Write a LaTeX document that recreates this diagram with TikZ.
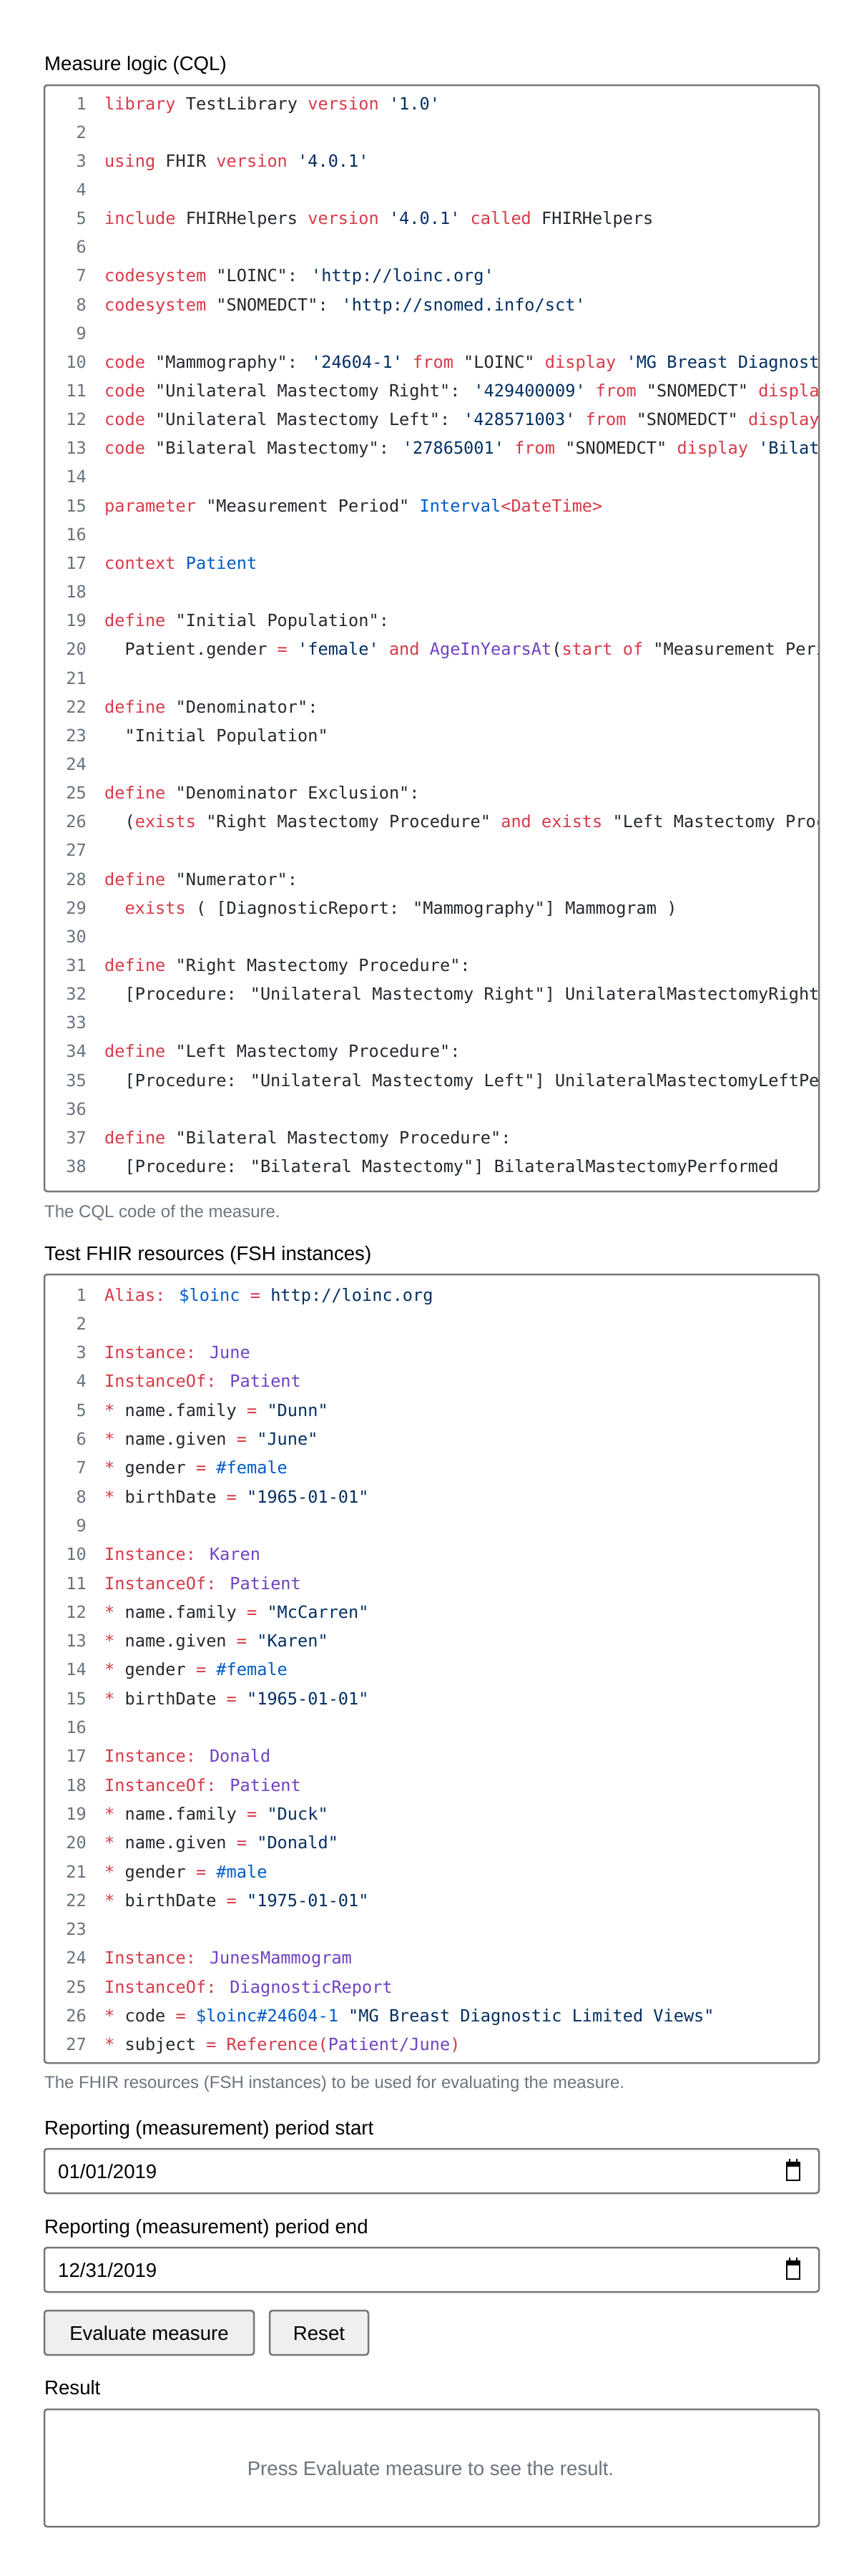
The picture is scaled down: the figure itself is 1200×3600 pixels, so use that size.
\documentclass[tikz,border=0pt]{standalone}
\usepackage{fontspec}
\setmainfont{Liberation Sans}
\newfontfamily\codefont{DejaVu Sans Mono}
\definecolor{kwc}{HTML}{D73A49}
\definecolor{stc}{HTML}{032F62}
\definecolor{blc}{HTML}{005CC5}
\definecolor{puc}{HTML}{6F42C1}
\definecolor{txc}{HTML}{24292E}
\definecolor{lnc}{HTML}{6A737D}
\definecolor{capc}{HTML}{6C757D}
\definecolor{bordc}{HTML}{767676}
\definecolor{btnc}{HTML}{EFEFEF}
\newcommand\kw[1]{\textcolor{kwc}{#1}}
\newcommand\st[1]{\textcolor{stc}{#1}}
\newcommand\bl[1]{\textcolor{blc}{#1}}
\newcommand\pu[1]{\textcolor{puc}{#1}}
\newcommand\ind{\hspace*{1.204em}}
\tikzset{
  lnum/.style={anchor=base east,inner sep=0pt,font=\codefont\fontsize{23.6}{28}\selectfont,text=lnc},
  ctext/.style={anchor=base west,inner sep=0pt,font=\codefont\fontsize{23.6}{28}\selectfont,text=txc},
  lbl/.style={anchor=base west,inner sep=0pt,font=\fontsize{27.6}{32}\selectfont,text=black},
  capt/.style={anchor=base west,inner sep=0pt,font=\fontsize{24}{28}\selectfont,text=capc},
  frame/.style={draw=bordc,line width=2.5pt,rounded corners=4pt},
  btn/.style={draw=bordc,line width=2.5pt,rounded corners=4pt,fill=btnc}
}
\newcommand\cql[2]{\node[lnum,name=an#1] at (121,{153+(#1-1)*40.15}) {#1};\node[ctext,name=ac#1] at (146,{153+(#1-1)*40.15}) {#2};}
\newcommand\fsh[2]{\node[lnum,name=bn#1] at (121,{1818+(#1-1)*40.3}) {#1};\node[ctext,name=bc#1] at (146,{1818+(#1-1)*40.3}) {#2};}
\begin{document}
\begin{tikzpicture}[x=1pt,y=-1pt]
\useasboundingbox[fill=white] (0,0) rectangle (1200,3600);
% CQL
\node[lbl,name=t1] at (62,98) {Measure logic (CQL)};
\draw[frame] (62,119) rectangle (1145,1665);
\begin{scope}
\clip (64,121) rectangle (1143,1663);
\cql{1}{\kw{library} TestLibrary \kw{version} \st{'1.0'}}
\cql{2}{}
\cql{3}{\kw{using} FHIR \kw{version} \st{'4.0.1'}}
\cql{4}{}
\cql{5}{\kw{include} FHIRHelpers \kw{version} \st{'4.0.1'} \kw{called} FHIRHelpers}
\cql{6}{}
\cql{7}{\kw{codesystem} "LOINC": \st{'http://loinc.org'}}
\cql{8}{\kw{codesystem} "SNOMEDCT": \st{'http://snomed.info/sct'}}
\cql{9}{}
\cql{10}{\kw{code} "Mammography": \st{'24604-1'} \kw{from} "LOINC" \kw{display} \st{'MG Breast Diagnostic Limited Views'}}
\cql{11}{\kw{code} "Unilateral Mastectomy Right": \st{'429400009'} \kw{from} "SNOMEDCT" \kw{display} \st{'Unilateral mastectomy right'}}
\cql{12}{\kw{code} "Unilateral Mastectomy Left": \st{'428571003'} \kw{from} "SNOMEDCT" \kw{display} \st{'Unilateral mastectomy left'}}
\cql{13}{\kw{code} "Bilateral Mastectomy": \st{'27865001'} \kw{from} "SNOMEDCT" \kw{display} \st{'Bilateral mastectomy'}}
\cql{14}{}
\cql{15}{\kw{parameter} "Measurement Period" \bl{Interval}\kw{<DateTime>}}
\cql{16}{}
\cql{17}{\kw{context} \bl{Patient}}
\cql{18}{}
\cql{19}{\kw{define} "Initial Population":}
\cql{20}{\ind Patient.gender \kw{=} \st{'female'} \kw{and} \pu{AgeInYearsAt}(\kw{start} \kw{of} "Measurement Period") \kw{>=} 40}
\cql{21}{}
\cql{22}{\kw{define} "Denominator":}
\cql{23}{\ind "Initial Population"}
\cql{24}{}
\cql{25}{\kw{define} "Denominator Exclusion":}
\cql{26}{\ind (\kw{exists} "Right Mastectomy Procedure" \kw{and} \kw{exists} "Left Mastectomy Procedure")}
\cql{27}{}
\cql{28}{\kw{define} "Numerator":}
\cql{29}{\ind \kw{exists} ( [DiagnosticReport: "Mammography"] Mammogram )}
\cql{30}{}
\cql{31}{\kw{define} "Right Mastectomy Procedure":}
\cql{32}{\ind [Procedure: "Unilateral Mastectomy Right"] UnilateralMastectomyRightPerformed}
\cql{33}{}
\cql{34}{\kw{define} "Left Mastectomy Procedure":}
\cql{35}{\ind [Procedure: "Unilateral Mastectomy Left"] UnilateralMastectomyLeftPerformed}
\cql{36}{}
\cql{37}{\kw{define} "Bilateral Mastectomy Procedure":}
\cql{38}{\ind [Procedure: "Bilateral Mastectomy"] BilateralMastectomyPerformed}
\end{scope}
\node[capt,name=cap1] at (62,1701) {The CQL code of the measure.};
% FSH
\node[lbl,name=t2] at (62,1761) {Test FHIR resources (FSH instances)};
\draw[frame] (62,1781) rectangle (1145,2883);
\fsh{1}{\kw{Alias:} \bl{\$loinc} \kw{=} \st{http://loinc.org}}
\fsh{2}{}
\fsh{3}{\kw{Instance:} \pu{June}}
\fsh{4}{\kw{InstanceOf:} \pu{Patient}}
\fsh{5}{\kw{*} name.family \kw{=} \st{"Dunn"}}
\fsh{6}{\kw{*} name.given \kw{=} \st{"June"}}
\fsh{7}{\kw{*} gender \kw{=} \bl{\#female}}
\fsh{8}{\kw{*} birthDate \kw{=} \st{"1965-01-01"}}
\fsh{9}{}
\fsh{10}{\kw{Instance:} \pu{Karen}}
\fsh{11}{\kw{InstanceOf:} \pu{Patient}}
\fsh{12}{\kw{*} name.family \kw{=} \st{"McCarren"}}
\fsh{13}{\kw{*} name.given \kw{=} \st{"Karen"}}
\fsh{14}{\kw{*} gender \kw{=} \bl{\#female}}
\fsh{15}{\kw{*} birthDate \kw{=} \st{"1965-01-01"}}
\fsh{16}{}
\fsh{17}{\kw{Instance:} \pu{Donald}}
\fsh{18}{\kw{InstanceOf:} \pu{Patient}}
\fsh{19}{\kw{*} name.family \kw{=} \st{"Duck"}}
\fsh{20}{\kw{*} name.given \kw{=} \st{"Donald"}}
\fsh{21}{\kw{*} gender \kw{=} \bl{\#male}}
\fsh{22}{\kw{*} birthDate \kw{=} \st{"1975-01-01"}}
\fsh{23}{}
\fsh{24}{\kw{Instance:} \pu{JunesMammogram}}
\fsh{25}{\kw{InstanceOf:} \pu{DiagnosticReport}}
\fsh{26}{\kw{*} code \kw{=} \bl{\$loinc\#24604-1} \st{"MG Breast Diagnostic Limited Views"}}
\fsh{27}{\kw{*} subject \kw{=} \kw{Reference(}\pu{Patient/June}\kw{)}}
\node[capt,name=cap2] at (62,2918) {The FHIR resources (FSH instances) to be used for evaluating the measure.};
% period inputs
\node[lbl,name=t3] at (62,2983) {Reporting (measurement) period start};
\draw[frame] (62,3003) rectangle (1145,3065);
\node[lbl,name=d1] at (81,3044) {01/01/2019};
\draw[black,line width=2.4pt] (1100,3023) rectangle (1118,3047);
\fill[black] (1099,3021) rectangle (1119,3028);
\fill[black] (1103,3017) rectangle (1105,3022) (1113,3017) rectangle (1115,3022);
\node[lbl,name=t4] at (62,3121) {Reporting (measurement) period end};
\draw[frame] (62,3141) rectangle (1145,3203);
\node[lbl,name=d2] at (81,3182) {12/31/2019};
\draw[black,line width=2.4pt] (1100,3161) rectangle (1118,3185);
\fill[black] (1099,3159) rectangle (1119,3166);
\fill[black] (1103,3155) rectangle (1105,3160) (1113,3155) rectangle (1115,3160);
% buttons
\draw[btn] (62,3229) rectangle (355,3291);
\node[lbl,anchor=base,name=b1] at (208.5,3270) {Evaluate measure};
\draw[btn] (377,3229) rectangle (515,3291);
\node[lbl,anchor=base,name=b2] at (446,3270) {Reset};
% result
\node[lbl,name=t5] at (62,3346) {Result};
\draw[frame] (62,3367) rectangle (1145,3531);
\node[lbl,anchor=base,text=capc,name=res] at (602,3459) {Press Evaluate measure to see the result.};
\end{tikzpicture}
\end{document}
